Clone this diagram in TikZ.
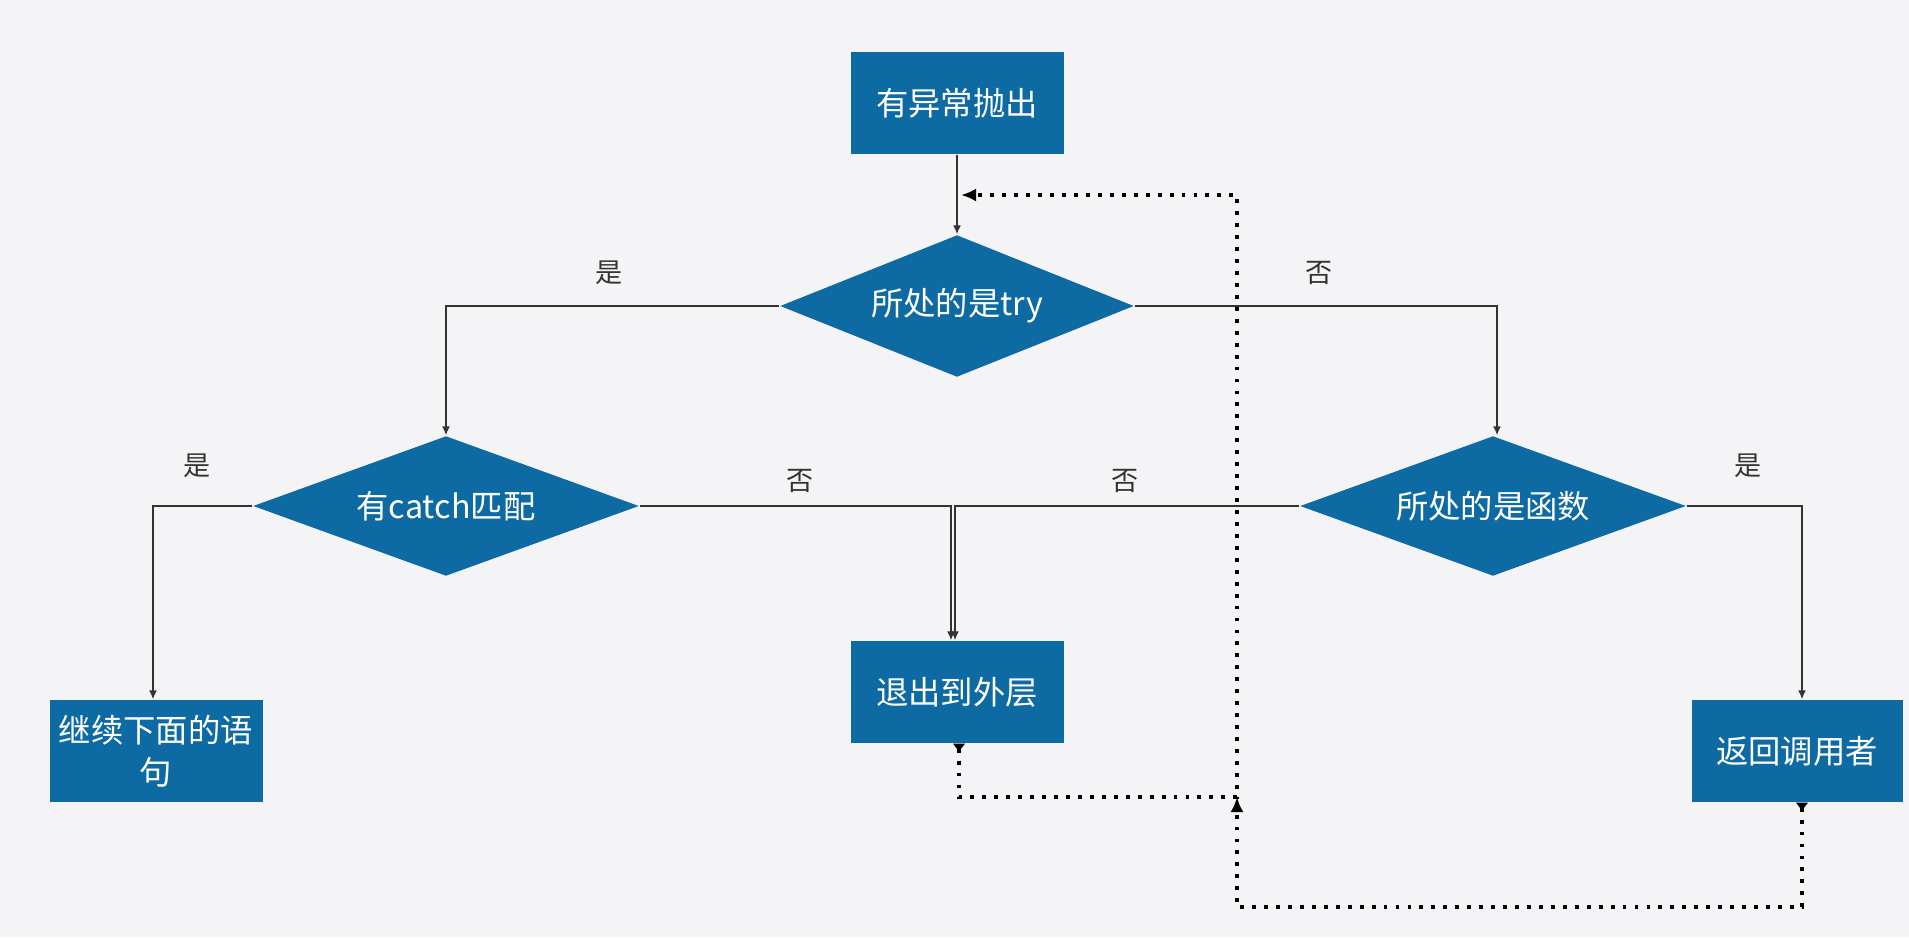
\documentclass[tikz,border=0pt]{standalone}
\usepackage{fontspec}
\setmainfont{Noto Sans CJK SC}
\usepackage{tikz}
\usetikzlibrary{shapes.geometric,arrows.meta}
\definecolor{boxblue}{RGB}{14,106,163}
\definecolor{paper}{RGB}{244,244,246}
\definecolor{wire}{RGB}{51,51,51}

\begin{document}
\begin{tikzpicture}[x=0.1mm,y=-0.1mm,
    proc/.style={rectangle, fill=boxblue, text=white, font=\fontsize{9.2}{12}\selectfont,
        minimum width=21.3mm, minimum height=10.2mm, inner sep=1pt, align=center},
    decide/.style={diamond, fill=boxblue, text=white, font=\fontsize{9.2}{12}\selectfont,
        inner sep=0pt, aspect=2.7},
    flow/.style={draw=wire, line width=0.45pt, arrows={-Latex[length=0.9mm,width=0.8mm]}},
    back/.style={draw=black, line width=1.1pt, dash pattern=on 1.1pt off 2.3pt,
        arrows={Latex[reversed,length=0.9mm,width=1.3mm]-Latex[length=1.5mm,width=1.3mm]}},
    lbl/.style={text=wire, font=\fontsize{7.7}{9}\selectfont}]

    \fill[paper] (0,0) rectangle (1909,937);
    \useasboundingbox (0,0) rectangle (1909,937);

    % boxes and tests
    \node[proc] (throw) at (957,103) {有异常抛出};
    \node[decide, minimum width=35.4mm, minimum height=14.2mm] (try) at (957,306) {所处的是try};
    \node[decide, minimum width=38.6mm, minimum height=14.0mm] (catch) at (446,506) {有catch匹配};
    \node[decide, minimum width=38.6mm, minimum height=14.0mm] (func) at (1493,506) {所处的是函数};
    \node[proc] (cont) at (156,751) {继续下面的语\\句};
    \node[proc] (exit) at (957,692) {退出到外层};
    \node[proc, minimum width=21.1mm] (ret) at (1797,751) {返回调用者};

    % branch labels
    \node[lbl] (tryyes) at (609,273) {是};
    \node[lbl] (tryno) at (1319,273) {否};
    \node[lbl] (catchyes) at (197,466) {是};
    \node[lbl] (catchno) at (800,481) {否};
    \node[lbl] (funcno) at (1125,481) {否};
    \node[lbl] (funcyes) at (1748,466) {是};

    \coordinate (join) at (1237,797);
    \coordinate (base) at (1237,907);
    \coordinate (rejoin) at (961,195);

    \draw[flow] (throw) -- (try);
    \draw[flow] (try.west) -| (catch.north);
    \draw[flow] (try.east) -| ([xshift=0.4mm]func.north);
    \draw[flow] (catch.west) -| ([xshift=-0.3mm]cont.north);
    \draw[flow] (catch.east) -| ([xshift=-0.6mm]exit.north);
    \draw[flow] (func.west) -| ([xshift=-0.2mm]exit.north);
    \draw[flow] (func.east) -| ([xshift=0.5mm]ret.north);

    % loop back
    \draw[back] ([xshift=0.2mm]exit.south) |- (join) |- (rejoin);
    \draw[back] ([xshift=0.5mm]ret.south) |- (base) -- (join);

\end{tikzpicture}
\end{document}
